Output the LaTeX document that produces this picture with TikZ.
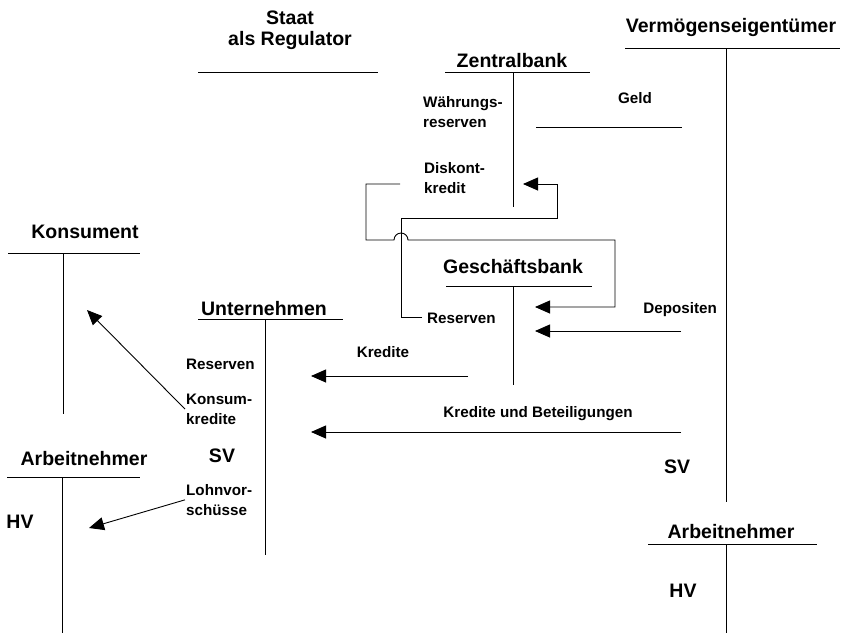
\documentclass[tikz,border=0pt]{standalone}
\usepackage{fontspec}
\setmainfont{Liberation Sans}
\usetikzlibrary{arrows.meta,positioning}

\begin{document}
\begin{tikzpicture}[x=1pt,y=-1pt]
    \tikzset{
        konto/.style={font=\fontsize{19.5}{20.5}\selectfont\bfseries, inner sep=0pt, anchor=base},
        posten/.style={font=\fontsize{15.2}{19.5}\selectfont\bfseries, inner sep=0pt, align=left, anchor=base west},
        fluss/.style={-{Triangle[length=15pt,width=13pt]}, line width=0.9pt},
        strich/.style={line width=0.9pt},
    }
    \useasboundingbox (0,0) rectangle (842,635);

    % Konten
    \node[konto, align=center] (staat) at (290,45) {Staat\\als Regulator};
    \node[konto] (zb) at (512,67) {Zentralbank};
    \node[konto] (ve) at (731,32) {Vermögenseigentümer};
    \node[konto] (gb) at (513,273) {Geschäftsbank};
    \node[konto] (un) at (264,315) {Unternehmen};
    \node[konto] (ks) at (85,238) {Konsument};
    \node[konto] (an1) at (84,465) {Arbeitnehmer};
    \node[konto] (an2) at (731,538) {Arbeitnehmer};

    \draw[strich] (198,72) -- (378,72);
    \draw[strich] (445,72) -- (590,72) (513,72) -- (513,207);
    \draw[strich] (625,48) -- (840,48) (726,48) -- (726,502);
    \draw[strich] (536,127) -- (682,127);
    \draw[strich] (446,286) -- (592,286) (513,286) -- (513,385);
    \draw[strich] (198,319) -- (343,319) (265,319) -- (265,555);
    \draw[strich] (8,253) -- (140,253) (63,253) -- (63,414);
    \draw[strich] (7,477) -- (140,477) (62,477) -- (62,633);
    \draw[strich] (648,544) -- (817,544) (726,544) -- (726,633);

    % Posten
    \node[posten] (wr) at (423,127) {Währungs-\\reserven};
    \node[posten] (dk) at (424,193) {Diskont-\\kredit};
    \node[posten, anchor=base] (geld) at (635,103) {Geld};
    \node[posten] (gbres) at (427,323) {Reserven};
    \node[posten, anchor=base east] (dep) at (717,313) {Depositen};
    \node[posten, anchor=base] (kr) at (383,357) {Kredite};
    \node[posten, anchor=base] (kub) at (538,417) {Kredite und Beteiligungen};
    \node[posten] (unres) at (186,369) {Reserven};
    \node[posten] (kk) at (186,424) {Konsum-\\kredite};
    \node[posten] (lv) at (186,515) {Lohnvor-\\schüsse};
    \node[konto] (sv1) at (222,462) {SV};
    \node[konto] (sv2) at (677,473) {SV};
    \node[konto] (hv1) at (20,528) {HV};
    \node[konto] (hv2) at (683,597) {HV};

    % Stroeme
    \coordinate (zb-in) at (523,184);
    \coordinate (dk-out) at (400,184);
    \coordinate (gb-in) at (535,307);
    \coordinate (dep-out) at (681,331);
    \coordinate (dep-in) at (535,331);
    \coordinate (kr-out) at (468,376);
    \coordinate (kr-in) at (311,376);
    \coordinate (kub-out) at (681,432);
    \coordinate (kub-in) at (311,432);
    \coordinate (ks-in) at (87,310);
    \coordinate (an-in) at (89,528);

    \draw[fluss] ([xshift=-5pt]gbres.west) -| (401,218) -| (557,184) -- (zb-in);
    \draw[fluss] (dk-out) -- (366,184) -- (366,240) -- (394,240)
        arc[start angle=180, end angle=0, radius=7pt] -- (615,240) -- (615,307) -- (gb-in);
    \draw[fluss] (dep-out) -- (dep-in);
    \draw[fluss] (kr-out) -- (kr-in);
    \draw[fluss] (kub-out) -- (kub-in);
    \draw[fluss] ([xshift=-1pt]kk.west) -- (ks-in);
    \draw[fluss] ([xshift=-1pt]lv.west) -- (an-in);

\end{tikzpicture}
\end{document}
